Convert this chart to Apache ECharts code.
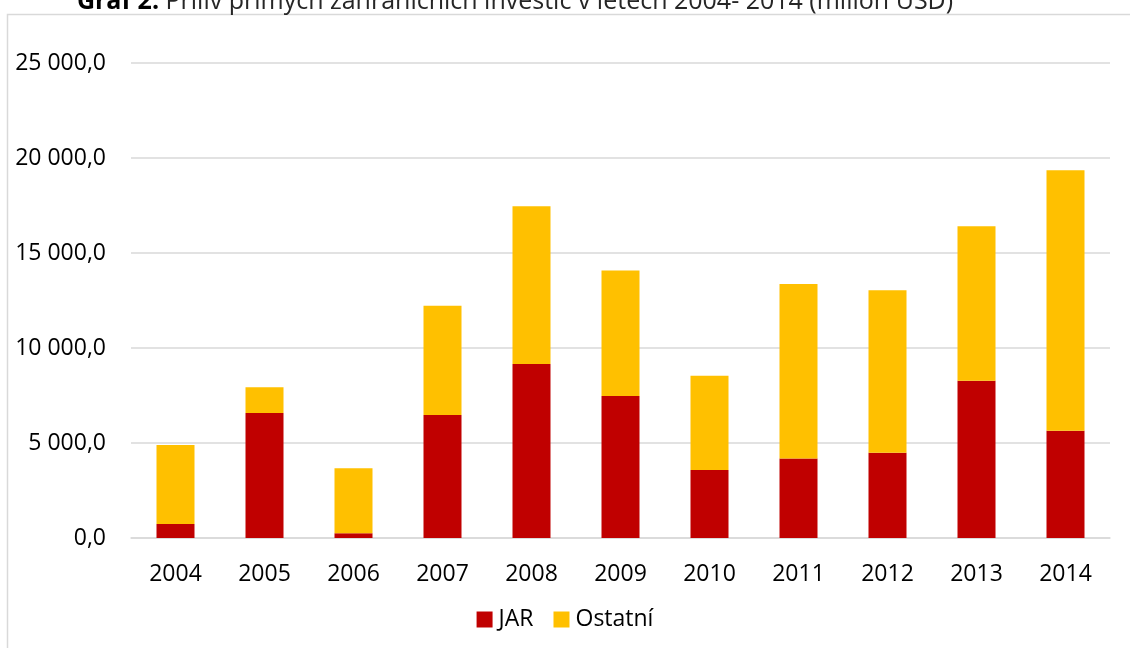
<!DOCTYPE html>
<html>
<head>
<meta charset="utf-8">
<script src="https://cdn.jsdelivr.net/npm/echarts@6/dist/echarts.min.js"></script>
<style>
html,body{margin:0;padding:0;background:#fff;}
#c{width:1130px;height:648px;}
</style>
</head>
<body>
<div id="c"></div>
<script>
const categories = ['2004','2005','2006','2007','2008','2009','2010','2011','2012','2013','2014'];
const jar = [740, 6580, 250, 6470, 9160, 7470, 3580, 4190, 4490, 8280, 5650];
const ostatni = [4160, 1350, 3420, 5750, 8300, 6610, 4965, 9175, 8545, 8125, 13700];
const seriesNames = ['JAR', 'Ostatní'];
const yTicks = [0, 5000, 10000, 15000, 20000, 25000];

const FONT = '"Open Sans", sans-serif';
function fmt(v) {
  const s = Math.round(v).toString().replace(/\B(?=(\d{3})+(?!\d))/g, ' ');
  return s + ',0';
}

const chart = echarts.init(document.getElementById('c'));
chart.setOption({
  animation: false,
  backgroundColor: '#fff',
  textStyle: { fontFamily: FONT },
  graphic: [{
    type: 'rect',
    shape: { x: 7.5, y: 14.5, width: 1200, height: 700 },
    style: { fill: 'none', stroke: '#d9d9d9', lineWidth: 1.5 },
    silent: true
  }],
  title: {
    text: '{b|Graf 2:} Příliv přímých zahraničních investic v letech 2004- 2014 (milion USD)',
    left: 510,
    textAlign: 'center',
    top: -16,
    textStyle: {
      fontFamily: FONT,
      fontSize: 25,
      fontWeight: 'normal',
      color: '#262626',
      rich: {
        b: { fontFamily: FONT, fontSize: 25, fontWeight: 'bold', color: '#000' }
      }
    }
  },
  legend: {
    data: seriesNames,
    left: 'center',
    top: 603,
    itemWidth: 16,
    itemHeight: 16,
    itemGap: 20,
    icon: 'rect',
    textStyle: { fontFamily: FONT, fontSize: 23, color: '#000', padding: [0, 0, 0, 1] }
  },
  grid: { left: 131, right: 20, top: 63, bottom: 110, containLabel: false },
  xAxis: {
    type: 'category',
    data: categories,
    axisLine: { show: true, lineStyle: { color: '#d9d9d9', width: 1.5 } },
    axisTick: { show: false },
    axisLabel: { fontFamily: FONT, fontSize: 23, color: '#000', margin: 25 }
  },
  yAxis: {
    type: 'value',
    min: 0,
    max: 25000,
    interval: 5000,
    axisLine: { show: false },
    axisTick: { show: false },
    splitLine: { lineStyle: { color: '#d9d9d9', width: 1.5 } },
    axisLabel: { fontFamily: FONT, fontSize: 23, color: '#000', margin: 25, formatter: fmt }
  },
  series: [
    {
      name: seriesNames[0], type: 'bar', stack: 'total', data: jar,
      barWidth: 38, itemStyle: { color: '#C00000' }
    },
    {
      name: seriesNames[1], type: 'bar', stack: 'total', data: ostatni,
      barWidth: 38, itemStyle: { color: '#FFC000' }
    }
  ]
});
</script>
</body>
</html>
